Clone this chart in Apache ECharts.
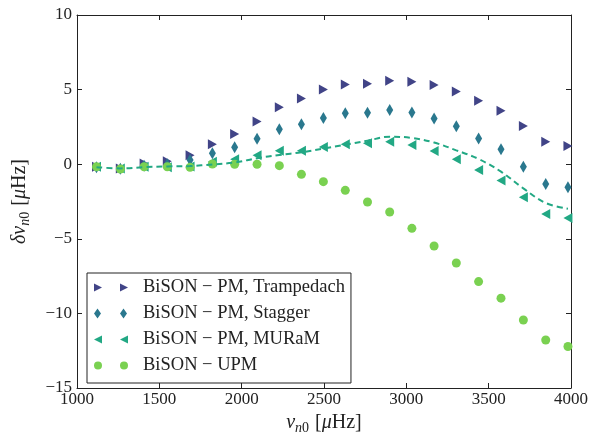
<!DOCTYPE html>
<html>
<head>
<meta charset="utf-8">
<script src="https://cdn.jsdelivr.net/npm/echarts@6/dist/echarts.min.js"></script>
<style>
  html, body { margin: 0; padding: 0; background: #ffffff; }
  #chart { width: 589px; height: 432px; }
</style>
</head>
<body>
<div id="chart"></div>
<script>
// Radial-mode frequencies (µHz) and frequency differences (µHz)
const freqs = [1118.3, 1263.2, 1407.5, 1548.3, 1686.6, 1822.2, 1957.4, 2093.5, 2228.8, 2362.8, 2496.2,
               2629.3, 2764.2, 2899.0, 3033.8, 3168.6, 3303.5, 3438.9, 3574.9, 3710.7, 3846.5, 3981.5];
const trampedach = [-0.17, -0.28, 0.05, 0.2, 0.6, 1.33, 2.02, 2.87, 3.81, 4.41, 5.01,
                    5.35, 5.39, 5.59, 5.53, 5.30, 4.88, 4.25, 3.58, 2.56, 1.51, 1.22];
const stagger = [-0.2, -0.3, -0.1, 0.0, 0.28, 0.73, 1.13, 1.71, 2.34, 2.67, 3.09,
                 3.41, 3.45, 3.63, 3.47, 3.07, 2.54, 1.73, 1.0, -0.17, -1.33, -1.55];
const muram = [-0.17, -0.28, -0.17, -0.2, -0.15, 0.17, 0.33, 0.6, 0.9, 0.9, 1.15,
               1.33, 1.4, 1.51, 1.29, 0.88, 0.33, -0.39, -1.1, -2.22, -3.34, -3.6];
const upm = [-0.17, -0.32, -0.17, -0.17, -0.21, 0.01, 0.0, 0.0, -0.1, -0.68, -1.17,
             -1.75, -2.53, -3.2, -4.3, -5.48, -6.62, -7.87, -8.98, -10.44, -11.78, -12.22];
const muramFit = [-0.2, -0.28, -0.2, -0.15, -0.12, -0.02, 0.12, 0.4, 0.62, 0.8, 1.05,
                  1.3, 1.58, 1.84, 1.76, 1.45, 0.93, 0.35, -0.5, -1.62, -2.6, -2.98];

const names = ['BiSON − PM, Trampedach', 'BiSON − PM, Stagger', 'BiSON − PM, MURaM', 'BiSON − UPM'];
const colors = ['#414487', '#2a788e', '#22a884', '#7ad151'];

const xTicks = { min: 1000, max: 4000, interval: 500 };
const yTicks = { min: -15, max: 10, interval: 5 };

const pairs = (ys) => freqs.map((f, i) => [f, ys[i]]);
const minus = (v) => (v < 0 ? '−' + (-v) : String(v));

const SERIF = '"Liberation Serif", "DejaVu Serif", serif';
const FRAME = '#222222';

// Legend icons: two markers per entry; the outer move-to points fix the bounding box
const BOX = 'M0,0L0,0ZM44,10L44,10Z';
const icons = [
  'path://' + BOX + 'M0,1L8,5L0,9ZM26,1L34,5L26,9Z',
  'path://' + BOX + 'M3.5,0L7,5L3.5,10L0,5ZM29.5,0L33,5L29.5,10L26,5Z',
  'path://' + BOX + 'M8,1L0,5L8,9ZM34,1L26,5L34,9Z',
  'path://' + BOX + 'M0,5A4,4 0 1,0 8,5A4,4 0 1,0 0,5ZM26,5A4,4 0 1,0 34,5A4,4 0 1,0 26,5Z'
];

const richName = {
  i: { fontFamily: SERIF, fontStyle: 'italic', fontSize: 20, lineHeight: 24, verticalAlign: 'middle', color: '#222' },
  r: { fontFamily: SERIF, fontSize: 20, lineHeight: 24, verticalAlign: 'middle', color: '#222' },
  s: { fontFamily: SERIF, fontStyle: 'italic', fontSize: 14, lineHeight: 14, verticalAlign: 'bottom', color: '#222' },
  u: { fontFamily: SERIF, fontSize: 14, lineHeight: 14, verticalAlign: 'bottom', color: '#222', padding: [0, 6, 0, 0] }
};

const axisCommon = {
  axisLine: { show: true, onZero: false, lineStyle: { color: FRAME, width: 1 } },
  axisTick: { show: true, inside: true, length: 5, lineStyle: { color: FRAME, width: 1 } },
  splitLine: { show: false }
};

const chart = echarts.init(document.getElementById('chart'), null, { renderer: 'canvas' });
chart.setOption({
  animation: false,
  backgroundColor: '#ffffff',
  grid: { left: 77, right: 18, top: 15, bottom: 44, containLabel: false, outerBoundsMode: 'none' },
  xAxis: [
    Object.assign({
      type: 'value', position: 'bottom', min: xTicks.min, max: xTicks.max, interval: xTicks.interval,
      axisLabel: { fontFamily: SERIF, fontSize: 17, color: '#222', margin: 3, formatter: (v) => String(v) },
      name: '{i|ν}{s|n}{u|0}{r|[}{i|μ}{r|Hz]}',
      nameLocation: 'middle', nameGap: 15,
      nameTextStyle: { rich: richName }
    }, axisCommon),
    Object.assign({
      type: 'value', position: 'top', min: xTicks.min, max: xTicks.max, interval: xTicks.interval,
      axisLabel: { show: false }
    }, axisCommon)
  ],
  yAxis: [
    Object.assign({
      type: 'value', position: 'left', min: yTicks.min, max: yTicks.max, interval: yTicks.interval,
      axisLabel: { fontFamily: SERIF, fontSize: 17, color: '#222', margin: 5, formatter: minus },
      name: '{i|δν}{s|n}{u|0}{r|[}{i|μ}{r|Hz]}',
      nameLocation: 'middle', nameGap: 45, nameRotate: 90,
      nameTextStyle: { rich: richName }
    }, axisCommon),
    Object.assign({
      type: 'value', position: 'right', min: yTicks.min, max: yTicks.max, interval: yTicks.interval,
      axisLabel: { show: false }
    }, axisCommon)
  ],
  legend: {
    orient: 'vertical',
    left: 87, top: 273,
    padding: [5, 6, 8, 7],
    itemWidth: 44, itemHeight: 10, itemGap: 7,
    backgroundColor: '#ffffff',
    borderColor: '#222222', borderWidth: 1,
    selectedMode: false,
    textStyle: { fontFamily: SERIF, fontSize: 18.5, lineHeight: 18, color: '#222' },
    data: names.map((n, k) => ({ name: n, icon: icons[k], itemStyle: { color: colors[k] } }))
  },
  series: [
    {
      name: names[0], type: 'scatter', data: pairs(trampedach),
      symbol: 'triangle', symbolSize: [10, 9], symbolRotate: -90,
      itemStyle: { color: colors[0], opacity: 1 }, z: 2
    },
    {
      name: names[1], type: 'scatter', data: pairs(stagger),
      symbol: 'diamond', symbolSize: [7, 12],
      itemStyle: { color: colors[1], opacity: 1 }, z: 3
    },
    {
      name: names[2], type: 'scatter', data: pairs(muram),
      symbol: 'triangle', symbolSize: [10, 9], symbolRotate: 90,
      itemStyle: { color: colors[2], opacity: 1 }, z: 4
    },
    {
      name: names[3], type: 'scatter', data: pairs(upm),
      symbol: 'circle', symbolSize: 9,
      itemStyle: { color: colors[3], opacity: 1 }, z: 5
    },
    {
      name: 'MURaM fit', type: 'line', data: pairs(muramFit),
      smooth: 0.4, showSymbol: false, symbol: 'none',
      lineStyle: { color: '#22a884', width: 2, type: [6, 4] }, z: 6
    }
  ]
});
</script>
</body>
</html>
